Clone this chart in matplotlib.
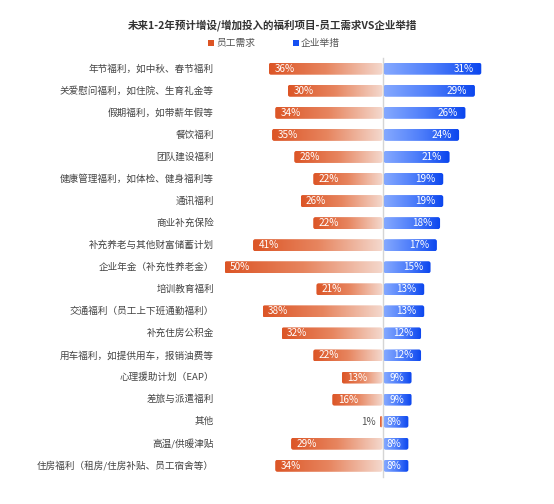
import matplotlib
matplotlib.use("Agg")
import matplotlib.pyplot as plt
import numpy as np
from matplotlib.patches import FancyBboxPatch, Rectangle
from matplotlib.colors import LinearSegmentedColormap

plt.rcParams['font.family'] = ['Noto Sans CJK SC', 'DejaVu Sans']

title = "未来1-2年预计增设/增加投入的福利项目-员工需求VS企业举措"
series_names = ["员工需求", "企业举措"]
categories = [
    "年节福利，如中秋、春节福利",
    "关爱慰问福利，如住院、生育礼金等",
    "假期福利，如带薪年假等",
    "餐饮福利",
    "团队建设福利",
    "健康管理福利，如体检、健身福利等",
    "通讯福利",
    "商业补充保险",
    "补充养老与其他财富储蓄计划",
    "企业年金（补充性养老金）",
    "培训教育福利",
    "交通福利（员工上下班通勤福利）",
    "补充住房公积金",
    "用车福利，如提供用车，报销油费等",
    "心理援助计划（EAP）",
    "差旅与派遣福利",
    "其他",
    "高温/供暖津贴",
    "住房福利（租房/住房补贴、员工宿舍等）",
]
employee = [36, 30, 34, 35, 28, 22, 26, 22, 41, 50, 21, 38, 32, 22, 13, 16, 1, 29, 34]
company = [31, 29, 26, 24, 21, 19, 19, 18, 17, 15, 13, 13, 12, 12, 9, 9, 8, 8, 8]

W, H = 554, 504
fig = plt.figure(figsize=(W / 100, H / 100), dpi=100)

px_per = 3.17
cx = 383
row_px = 22.06
row0 = 68.7
ax_left_px, ax_right_px = 220, 554
top_px, bot_px = row0 - row_px, row0 + 19 * row_px
ax = fig.add_axes([ax_left_px / W, 1 - bot_px / H, (ax_right_px - ax_left_px) / W, (bot_px - top_px) / H])
ax.set_xlim(-(cx - ax_left_px) / px_per, (ax_right_px - cx) / px_per)
ax.set_ylim(19.0, -1.0)
ax.axis('off')

orange_cmap = LinearSegmentedColormap.from_list("o", ["#DC5526", "#E7855F", "#F4D9CE"])
blue_cmap = LinearSegmentedColormap.from_list("b", ["#85A9FF", "#4D7DFA", "#0A45EE"])
grad = np.linspace(0, 1, 256).reshape(1, -1)

bh = 12 / row_px
rx = 0.7
mut_aspect = px_per / row_px

ax.plot([0, 0], [-0.5, 18.5], color="#D5D5D5", lw=1.0, zorder=1)

for i, (lab, e, c) in enumerate(zip(categories, employee, company)):
    x0 = -e
    patch = FancyBboxPatch((x0, i - bh / 2), e - 0.15, bh,
                           boxstyle=f"round,pad=0,rounding_size={rx}",
                           mutation_aspect=mut_aspect, facecolor="none", edgecolor="none")
    ax.add_patch(patch)
    im = ax.imshow(grad, extent=(x0, -0.15, i + bh / 2, i - bh / 2), cmap=orange_cmap,
                   aspect='auto', zorder=2, interpolation='bilinear')
    im.set_clip_path(patch)
    patch2 = FancyBboxPatch((0.2, i - bh / 2), c - 0.2, bh,
                            boxstyle=f"round,pad=0,rounding_size={rx}",
                            mutation_aspect=mut_aspect, facecolor="none", edgecolor="none")
    ax.add_patch(patch2)
    im2 = ax.imshow(grad, extent=(0.2, c, i + bh / 2, i - bh / 2), cmap=blue_cmap,
                    aspect='auto', zorder=2, interpolation='bilinear')
    im2.set_clip_path(patch2)

    if e >= 5:
        ax.text(x0 + 1.7, i, f"{e}%", color="white", fontsize=7.2, va="center", ha="left", zorder=3)
    else:
        ax.text(x0 - 1.2, i, f"{e}%", color="#555555", fontsize=7.2, va="center", ha="right", zorder=3)
    ax.text(c - 2.4, i, f"{c}%", color="white", fontsize=7.2, va="center", ha="right", zorder=3)

    ax.text(-(cx - 214) / px_per, i, lab, color="#444444", fontsize=6.9, va="center", ha="right",
            clip_on=False)

fig.text(272.5 / W, 1 - 25 / H, title, fontsize=7.6, fontweight="bold", color="#333333",
         ha="center", va="center")

sq = 6
for (x_px, name, col) in [(208, series_names[0], "#DC5424"), (293, series_names[1], "#1550F2")]:
    fig.patches.append(Rectangle((x_px / W, 1 - (43 + sq / 2) / H), sq / W, sq / H,
                                 transform=fig.transFigure, facecolor=col, edgecolor="none"))
    fig.text((x_px + 8) / W, 1 - 43 / H, name, fontsize=7.0, color="#555555", ha="left", va="center")

fig.savefig("out.png", dpi=100)
